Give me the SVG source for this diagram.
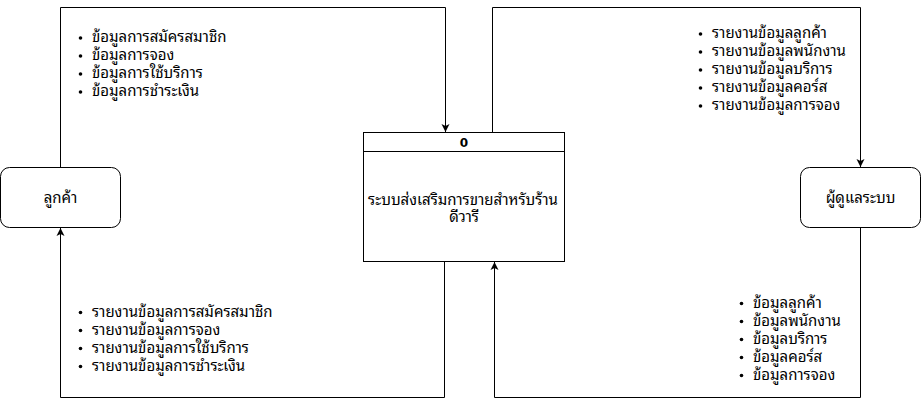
<svg xmlns="http://www.w3.org/2000/svg" width="921" height="406" viewBox="0 0 921 406">
<defs>
<marker id="arr" markerWidth="9" markerHeight="9" refX="8" refY="4.5" orient="auto" markerUnits="userSpaceOnUse">
<path d="M0,0.5 L8,4.5 L0,8.5 L2,4.5 Z" fill="#000"/>
</marker>
</defs>
<style>
.box{fill:#fff;stroke:#000;stroke-width:1}
.conn{fill:none;stroke:#000;stroke-width:1}
text{font-family:"Noto Sans Thai Looped","Tahoma","Noto Sans Thai","Noto Sans","Liberation Sans",sans-serif;font-size:15px;fill:#000}
.c{text-anchor:middle}
.b{font-weight:bold;font-size:12px;font-family:"DejaVu Sans","Liberation Sans",sans-serif}
</style>
<rect width="921" height="406" fill="#fff"/>
<g id="connectors">
<path class="conn" d="M60.5,167 V7.5 H445.5 V132" marker-end="url(#arr)"/>
<path class="conn" d="M492.5,132 V7.5 H860.5 V167" marker-end="url(#arr)"/>
<path class="conn" d="M444.5,262 V397.5 H60.5 V228" marker-end="url(#arr)"/>
<path class="conn" d="M860.5,228 V397.5 H494.5 V262" marker-end="url(#arr)"/>
</g>
<g id="customer">
<rect class="box" x="0.5" y="167.5" width="120" height="60" rx="9"/>
<text class="c" x="60.5" y="203">ลูกค้า</text>
</g>
<g id="admin">
<rect class="box" x="800.5" y="167.5" width="120" height="60" rx="9"/>
<text class="c" x="860.5" y="203">ผู้ดูแลระบบ</text>
</g>
<g id="process">
<rect class="box" x="363.5" y="132.5" width="201" height="129"/>
<line class="conn" x1="363.5" y1="151.5" x2="564.5" y2="151.5"/>
<text class="c b" x="464" y="147">0</text>
<text class="c"><tspan x="463" y="205">ระบบส่งเสริมการขายสำหรับร้าน</tspan><tspan x="464" y="222">ดีวารี</tspan></text>
</g>
<g id="label-top-left">
<circle cx="80.5" cy="38" r="1.8"/><circle cx="80.5" cy="56" r="1.8"/><circle cx="80.5" cy="74" r="1.8"/><circle cx="80.5" cy="92" r="1.8"/>
<text><tspan x="92" y="42">ข้อมูลการสมัครสมาชิก</tspan><tspan x="92" y="60">ข้อมูลการจอง</tspan><tspan x="92" y="78">ข้อมูลการใช้บริการ</tspan><tspan x="92" y="96">ข้อมูลการชำระเงิน</tspan></text>
</g>
<g id="label-top-right">
<circle cx="700.5" cy="34" r="1.8"/><circle cx="700.5" cy="52" r="1.8"/><circle cx="700.5" cy="70" r="1.8"/><circle cx="700.5" cy="88" r="1.8"/><circle cx="700.5" cy="106" r="1.8"/>
<text><tspan x="712" y="38">รายงานข้อมูลลูกค้า</tspan><tspan x="712" y="56">รายงานข้อมูลพนักงาน</tspan><tspan x="712" y="74">รายงานข้อมูลบริการ</tspan><tspan x="712" y="92">รายงานข้อมูลคอร์ส</tspan><tspan x="712" y="110">รายงานข้อมูลการจอง</tspan></text>
</g>
<g id="label-bottom-left">
<circle cx="80.5" cy="312.5" r="1.8"/><circle cx="80.5" cy="330.5" r="1.8"/><circle cx="80.5" cy="348.5" r="1.8"/><circle cx="80.5" cy="366.5" r="1.8"/>
<text><tspan x="92" y="316.5">รายงานข้อมูลการสมัครสมาชิก</tspan><tspan x="92" y="334.5">รายงานข้อมูลการจอง</tspan><tspan x="92" y="352.5">รายงานข้อมูลการใช้บริการ</tspan><tspan x="92" y="370.5">รายงานข้อมูลการชำระเงิน</tspan></text>
</g>
<g id="label-bottom-right">
<circle cx="741.5" cy="303.5" r="1.8"/><circle cx="741.5" cy="321.5" r="1.8"/><circle cx="741.5" cy="339.5" r="1.8"/><circle cx="741.5" cy="357.5" r="1.8"/><circle cx="741.5" cy="375.5" r="1.8"/>
<text><tspan x="753" y="307.5">ข้อมูลลูกค้า</tspan><tspan x="753" y="325.5">ข้อมูลพนักงาน</tspan><tspan x="753" y="343.5">ข้อมูลบริการ</tspan><tspan x="753" y="361.5">ข้อมูลคอร์ส</tspan><tspan x="753" y="379.5">ข้อมูลการจอง</tspan></text>
</g>
</svg>
